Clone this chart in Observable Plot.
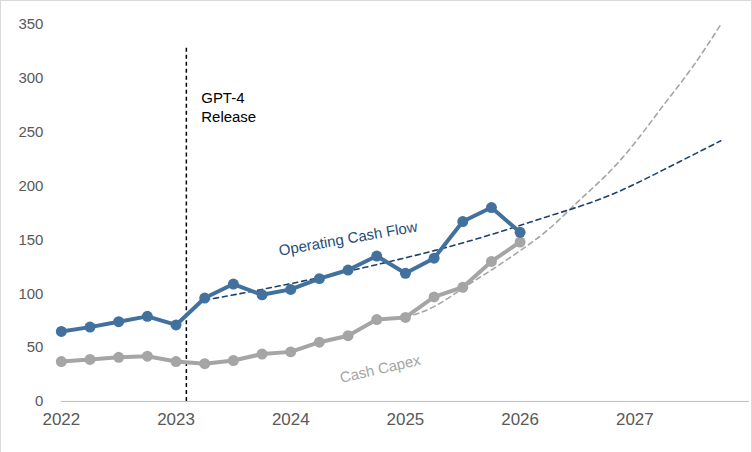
<!DOCTYPE html>
<html><head>
<script src="https://cdn.jsdelivr.net/npm/d3@7"></script>
<script src="https://cdn.jsdelivr.net/npm/@observablehq/plot@0.6"></script>
<style>body{margin:0;background:#fff}svg{display:block;box-sizing:border-box;border:1px solid #d9d9d9}</style>
</head><body>
<script>
const quarters = [2022,2022.25,2022.5,2022.75,2023,2023.25,2023.5,2023.75,2024,2024.25,2024.5,2024.75,2025,2025.25,2025.5,2025.75,2026];
const ocf = [65,69,74,79,71,96,109,99,104,114,122,135,119,133,167,180,157];
const capex = [37,39,41,42,37,35,38,44,46,55,61,76,78,97,106,130,148];
const ocfTrendX = [2023.25,2023.75,2024.25,2024.75,2025.25,2025.75,2026.25,2026.75,2027.25,2027.75];
const ocfTrend = [94,104,115,127,140,155,172,190,215,242];
const capexTrendX = [2025,2025.25,2025.5,2025.75,2026,2026.25,2026.5,2026.75,2027,2027.25,2027.5,2027.75];
const capexTrend = [78,88,105,122,140,160,185,210,240,275,310,350];
const xTicks = [2022,2023,2024,2025,2026,2027];
const yTicks = [0,50,100,150,200,250,300,350];

const d1 = quarters.map((q,i)=>({x:q,y:ocf[i]}));
const d2 = quarters.map((q,i)=>({x:q,y:capex[i]}));
const t1 = ocfTrendX.map((q,i)=>({x:q,y:ocfTrend[i]}));
const t2 = capexTrendX.map((q,i)=>({x:q,y:capexTrend[i]}));

const chart = Plot.plot({
  width:752, height:452,
  marginLeft:60, marginRight:2, marginTop:23, marginBottom:51,
  style:{fontFamily:"Liberation Sans, Arial, sans-serif", color:"#595959"},
  x:{domain:[2022,2028], ticks:xTicks, tickFormat:d=>String(d), tickSize:0, label:null},
  y:{domain:[0,350], ticks:yTicks, tickSize:0, label:null},
  marks:[
    Plot.axisY({ticks:yTicks, tickSize:0, tickPadding:18, fontSize:15, fill:"#595959"}),
    Plot.axisX({ticks:xTicks, tickSize:0, tickPadding:12, fontSize:17, fill:"#595959", tickFormat:d=>String(d)}),
    Plot.ruleY([0], {stroke:"#bfbfbf"}),
    Plot.ruleX([2023.09], {y1:0, y2:328, stroke:"#000", strokeDasharray:"4,3", strokeWidth:1.5}),
    Plot.text(["GPT-4\nRelease"], {x:2023.22, y:274, text:d=>d, textAnchor:"start", fontSize:15, fill:"#000", lineHeight:1.25}),
    Plot.line(t2, {x:"x", y:"y", stroke:"#a5a5a5", strokeDasharray:"5,4", strokeWidth:1.6, curve:"natural"}),
    Plot.line(t1, {x:"x", y:"y", stroke:"#1f3f6e", strokeDasharray:"5,4", strokeWidth:1.6, curve:"natural"}),
    Plot.line(d2, {x:"x", y:"y", stroke:"#a5a5a5", strokeWidth:4}),
    Plot.dot(d2, {x:"x", y:"y", fill:"#a5a5a5", r:5.5}),
    Plot.line(d1, {x:"x", y:"y", stroke:"#41719c", strokeWidth:4}),
    Plot.dot(d1, {x:"x", y:"y", fill:"#41719c", r:5.5}),
    Plot.text(["Operating Cash Flow"], {x:2024.5, y:151, text:d=>d, rotate:-10, fontSize:15, fill:"#1f4e79"}),
    Plot.text(["Cash Capex"], {x:2024.78, y:30, text:d=>d, rotate:-13, fontSize:15, fill:"#a5a5a5"})
  ]
});
document.body.appendChild(chart);
</script>
</body></html>
